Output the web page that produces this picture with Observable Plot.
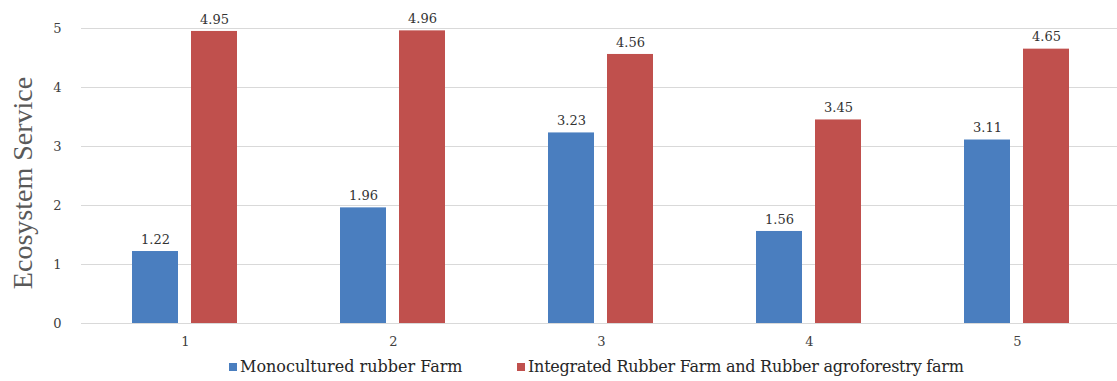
<!DOCTYPE html>
<html>
<head>
<meta charset="utf-8">
<script src="https://cdn.jsdelivr.net/npm/d3@7"></script>
<script src="https://cdn.jsdelivr.net/npm/@observablehq/plot@0.6"></script>
<style>
  body { margin: 0; background: #fff; font-family: "DejaVu Serif", serif; }
  #wrap { position: relative; width: 1117px; height: 381px; }
  #chart svg text { font-family: "DejaVu Serif", serif !important; }
  #ytitle { position: absolute; left: 23px; top: 183px; transform: translate(-50%, -50%) rotate(-90deg);
            font-family: "Liberation Serif", serif; font-size: 28px; color: #595959; white-space: nowrap; }
  #legend { position: absolute; top: 357px; left: 0; width: 1117px; height: 22px; font-size: 16px; color: #262626; }
  .item { position: absolute; top: 0; display: flex; align-items: center; white-space: nowrap; }
  .sw { width: 8px; height: 8px; margin-right: 3px; }
</style>
</head>
<body>
<div id="wrap">
  <div id="chart"></div>
  <div id="ytitle">Ecosystem Service</div>
  <div id="legend"></div>
</div>
<script>
const categories = ["1", "2", "3", "4", "5"];
const seriesNames = ["Monocultured rubber Farm", "Integrated Rubber Farm and Rubber agroforestry farm"];
const monoValues = [1.22, 1.96, 3.23, 1.56, 3.11];
const integratedValues = [4.95, 4.96, 4.56, 3.45, 4.65];
const yTicks = [0, 1, 2, 3, 4, 5];
const colors = ["#4A7EBF", "#C0504D"];

const data = [];
categories.forEach((c, i) => {
  data.push({cat: c, series: seriesNames[0], value: monoValues[i]});
  data.push({cat: c, series: seriesNames[1], value: integratedValues[i]});
});

const chart = Plot.plot({
  width: 1117,
  height: 355,
  marginLeft: 79,
  marginRight: 0,
  marginTop: 28,
  marginBottom: 32,
  style: {fontFamily: "'DejaVu Serif', serif", fontSize: "13px", color: "#404040", background: "white"},
  fx: {domain: categories, range: [79, 1122], paddingInner: 0, paddingOuter: 0, axis: "bottom", label: null, tickSize: 0, tickPadding: 13},
  x: {domain: seriesNames, paddingInner: 0.2167, paddingOuter: 0.8467, axis: null},
  y: {domain: [0, 5], ticks: yTicks, label: null, tickSize: 0, tickPadding: 20, tickFormat: d => String(d)},
  color: {domain: seriesNames, range: colors},
  marks: [
    Plot.ruleY(yTicks, {stroke: "#d9d9d9", strokeWidth: 1}),
    Plot.barY(data, {fx: "cat", x: "series", y: "value", fill: "series"}),
    Plot.text(data, {fx: "cat", x: "series", y: "value", text: d => d.value.toFixed(2), dy: -12, fill: "#333333", fontSize: 13})
  ]
});
document.getElementById("chart").appendChild(chart);

const legend = document.getElementById("legend");
const legendLeft = [229, 517];
const legendSpacing = ["0px", "-0.25px"];
seriesNames.forEach((name, i) => {
  const it = document.createElement("div");
  it.className = "item";
  it.style.left = legendLeft[i] + "px";
  const sw = document.createElement("span");
  sw.className = "sw";
  sw.style.background = colors[i];
  const t = document.createElement("span");
  t.textContent = name;
  t.style.letterSpacing = legendSpacing[i];
  it.appendChild(sw);
  it.appendChild(t);
  legend.appendChild(it);
});
</script>
</body>
</html>
